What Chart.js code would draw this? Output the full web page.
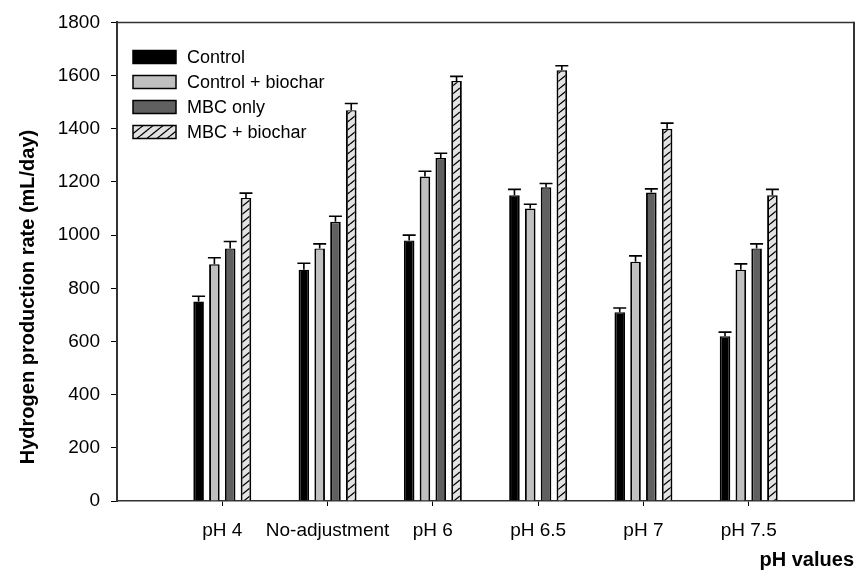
<!DOCTYPE html>
<html><head><meta charset="utf-8">
<script src="https://cdn.jsdelivr.net/npm/chart.js@4.4.1/dist/chart.umd.min.js"></script>
<style>html,body{margin:0;padding:0;background:#fff;} #wrap{width:859px;height:577px;}</style>
</head><body><div id="wrap"><canvas id="c" width="859" height="577"></canvas></div>
<script>
// ---- data ----
const categories = ['pH 4', 'No-adjustment', 'pH 6', 'pH 6.5', 'pH 7', 'pH 7.5'];
const seriesNames = ['Control', 'Control + biochar', 'MBC only', 'MBC + biochar'];
const control        = [750, 870, 980, 1150, 710, 620];
const controlBiochar = [890, 950, 1220, 1100, 900, 870];
const mbcOnly        = [950, 1050, 1290, 1180, 1160, 950];
const mbcBiochar     = [1140, 1470, 1580, 1620, 1400, 1150];
const errControl        = [20, 24, 20, 22, 16, 15];
const errControlBiochar = [25, 17, 20, 16, 22, 22];
const errMbcOnly        = [26, 21, 18, 14, 14, 17];
const errMbcBiochar     = [18, 25, 17, 17, 21, 22];
const yTicks = [0, 200, 400, 600, 800, 1000, 1200, 1400, 1600, 1800];
const yTitle = 'Hydrogen production rate (mL/day)';
const xTitle = 'pH values';

const FONT = "'Liberation Sans', Arial, sans-serif";
const canvas = document.getElementById('c');
const ctx = canvas.getContext('2d');

function makeHatch() {
  const w = 10, h = 8;
  const c = document.createElement('canvas');
  c.width = w; c.height = h;
  const g = c.getContext('2d');
  g.fillStyle = '#e2e2e2';
  g.fillRect(0, 0, w, h);
  g.strokeStyle = '#000';
  g.lineWidth = 1.3;
  for (let k = 0; k <= 2; k++) {
    g.beginPath();
    g.moveTo(0, k * h);
    g.lineTo(w, (k - 1) * h);
    g.stroke();
  }
  return ctx.createPattern(c, 'repeat');
}
const hatch = makeHatch();

const fills = ['#000000', '#c0c0c0', '#606060', hatch];
const values = [control, controlBiochar, mbcOnly, mbcBiochar];
const errors = [errControl, errControlBiochar, errMbcOnly, errMbcBiochar];

const datasets = seriesNames.map((name, s) => ({
  label: name,
  data: values[s].map((v, i) => ({ x: i + 1, y: v })),
  err: errors[s],
  backgroundColor: fills[s],
  borderColor: '#000',
  borderWidth: { top: 1.4, left: 1.9, right: 1.9, bottom: 0 },
  borderSkipped: 'start',
  barPercentage: 0.67,
  categoryPercentage: 0.6
}));

const errorBarPlugin = {
  id: 'errorBars',
  afterDatasetsDraw(chart) {
    const c = chart.ctx;
    const yScale = chart.scales.y;
    c.save();
    c.strokeStyle = '#000';
    c.lineWidth = 1.6;
    chart.data.datasets.forEach((ds, di) => {
      const meta = chart.getDatasetMeta(di);
      meta.data.forEach((el, i) => {
        const v = ds.data[i].y, e = ds.err[i];
        const yTop = yScale.getPixelForValue(v + e);
        const x = el.x;
        const half = el.width / 2 + 1.2;
        c.beginPath();
        c.moveTo(x, el.y);
        c.lineTo(x, yTop);
        c.moveTo(x - half, yTop);
        c.lineTo(x + half, yTop);
        c.stroke();
      });
    });
    c.restore();
  }
};

const framePlugin = {
  id: 'frame',
  afterDraw(chart) {
    const a = chart.chartArea, c = chart.ctx;
    c.save();
    c.strokeStyle = '#333';
    c.lineWidth = 1.5;
    c.beginPath();
    c.moveTo(a.left, a.top);
    c.lineTo(a.right, a.top);
    c.stroke();
    c.lineWidth = 2;
    c.beginPath();
    c.moveTo(a.right, a.top - 0.75);
    c.lineTo(a.right, a.bottom);
    c.stroke();
    // y axis title, centred a little below the middle of the axis as in the original
    c.fillStyle = '#000';
    c.font = 'bold 20px ' + FONT;
    c.textAlign = 'center';
    c.textBaseline = 'middle';
    c.translate(28, 297);
    c.rotate(-Math.PI / 2);
    c.fillText(yTitle, 0, 0);
    c.restore();
  }
};

const legendPlugin = {
  id: 'insideLegend',
  afterDraw(chart) {
    const c = chart.ctx;
    c.save();
    c.font = '18px ' + FONT;
    c.textBaseline = 'middle';
    c.textAlign = 'left';
    chart.data.datasets.forEach((ds, i) => {
      const cy = 57 + i * 25;
      c.fillStyle = ds.backgroundColor;
      c.fillRect(133, cy - 6.5, 43, 13);
      c.strokeStyle = '#000';
      c.lineWidth = 1.5;
      c.strokeRect(133, cy - 6.5, 43, 13);
      c.fillStyle = '#000';
      c.fillText(ds.label, 187, cy + 1);
    });
    c.restore();
  }
};

new Chart(canvas, {
  type: 'bar',
  data: { datasets },
  options: {
    responsive: false,
    animation: false,
    devicePixelRatio: 1,
    layout: { padding: { top: 19, right: 5, left: 0, bottom: 0 } },
    plugins: { legend: { display: false }, tooltip: { enabled: false } },
    scales: {
      x: {
        type: 'linear',
        min: 0, max: 7,
        offset: false,
        afterBuildTicks: s => { s.ticks = categories.map((c, i) => ({ value: i + 1 })); },
        afterFit: s => { s.height = 76; },
        ticks: {
          autoSkip: false, maxRotation: 0, minRotation: 0,
          callback: v => categories[v - 1] ?? '',
          font: { family: FONT, size: 19 }, color: '#000', padding: 13
        },
        grid: { display: true, drawOnChartArea: false, drawTicks: true, tickLength: 5, tickColor: '#000', tickWidth: 1, offset: false },
        border: { display: true, color: '#333', width: 1.5 },
        title: { display: true, text: xTitle, align: 'end', color: '#000',
          font: { family: FONT, size: 20, weight: 'bold' }, padding: { top: 0, bottom: 5 } }
      },
      y: {
        min: 0, max: 1800,
        afterBuildTicks: s => { s.ticks = yTicks.map(v => ({ value: v })); },
        afterFit: s => { s.width = 117; },
        ticks: { font: { family: FONT, size: 19 }, color: '#000', padding: 11,
          callback: v => String(v) },
        grid: { display: true, drawOnChartArea: false, drawTicks: true, tickLength: 6, tickColor: '#000', tickWidth: 1 },
        border: { display: true, color: '#333', width: 2 },
        title: { display: false }
      }
    }
  },
  plugins: [errorBarPlugin, framePlugin, legendPlugin]
});
</script>
</body></html>
